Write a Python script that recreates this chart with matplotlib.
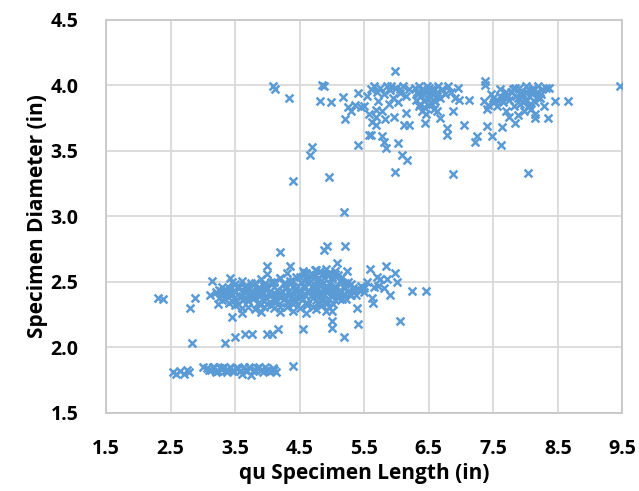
import matplotlib
matplotlib.use("Agg")
import matplotlib.pyplot as plt

# upper group (~4 in diameter specimens)
upper_len = [4.08, 4.12, 4.33, 4.84, 4.88, 4.82, 4.98, 5.17, 5.41, 5.20, 5.98, 5.25, 5.30,
             5.35, 5.45, 5.50, 5.55, 5.60, 5.65, 5.70, 5.75, 5.80, 5.85, 5.90, 5.95, 6.00,
             6.05, 6.10, 6.15, 6.20, 5.72, 5.88, 6.02, 5.58, 5.62, 5.68, 5.78, 5.82, 5.96,
             6.12, 5.77, 5.80, 5.83, 5.57, 5.41, 6.03, 6.08, 6.16, 5.97, 4.69, 4.66, 4.40,
             4.95, 6.14, 6.20, 5.69, 5.69, 5.61,
             6.28, 6.32, 6.35, 6.38, 6.40, 6.42, 6.45, 6.48, 6.50, 6.52, 6.55, 6.58, 6.60,
             6.62, 6.65, 6.68, 6.35, 6.40, 6.45, 6.55, 6.30, 6.62, 6.70, 6.75, 6.80, 6.85,
             6.90, 6.95, 6.44, 6.68, 6.79, 6.79, 6.87, 6.97, 7.05, 7.13, 7.21, 7.24, 7.40,
             7.48, 7.62, 7.64, 7.75, 7.83, 7.88, 7.40, 7.51, 7.72, 7.37, 7.37, 6.87,
             7.35, 7.42, 7.50, 7.55, 7.60, 7.65, 7.70, 7.75, 7.80, 7.82, 7.85, 7.90, 7.92,
             7.95, 8.00, 8.02, 8.05, 8.08, 8.10, 8.12, 8.15, 8.18, 8.20, 8.22, 8.25, 8.28,
             7.98, 8.15, 7.70, 7.88, 8.05, 7.60, 8.31, 8.36, 8.34, 8.45, 8.66, 8.03, 9.47,
             8.04, 8.15,
             6.33, 6.37, 6.43, 6.47, 6.53, 6.57, 6.63, 6.50, 6.42, 6.58, 5.92, 6.06,
             7.78, 7.84, 7.94, 8.00, 8.10, 8.17, 8.24, 7.96, 8.06, 7.66, 7.58, 7.46]
upper_dia = [3.99, 3.97, 3.90, 4.00, 3.99, 3.88, 3.87, 3.91, 3.94, 3.74, 4.11, 3.83, 3.80,
             3.85, 3.83, 3.84, 3.92, 3.97, 3.99, 3.95, 3.98, 3.93, 3.99, 3.96, 3.90, 3.98,
             3.94, 3.99, 3.92, 3.97, 3.88, 3.86, 3.87, 3.78, 3.72, 3.76, 3.80, 3.74, 3.76,
             3.70, 3.61, 3.57, 3.52, 3.62, 3.54, 3.56, 3.47, 3.43, 3.34, 3.53, 3.47, 3.27,
             3.30, 3.79, 3.70, 3.81, 3.70, 3.62,
             3.98, 3.95, 3.99, 3.92, 3.97, 3.88, 3.94, 3.99, 3.85, 3.91, 3.97, 3.82, 3.88,
             3.95, 3.99, 3.90, 3.84, 3.80, 3.78, 3.86, 3.89, 3.80, 3.97, 3.93, 3.99, 3.95,
             3.90, 3.98, 3.71, 3.75, 3.67, 3.62, 3.80, 3.89, 3.70, 3.89, 3.57, 3.61, 3.69,
             3.61, 3.54, 3.68, 3.76, 3.71, 3.77, 3.82, 3.87, 3.92, 4.00, 4.03, 3.32,
             3.88, 3.85, 3.90, 3.84, 3.92, 3.87, 3.95, 3.89, 3.97, 3.84, 3.92, 3.98, 3.86,
             3.94, 3.99, 3.89, 3.96, 3.82, 3.93, 3.98, 3.87, 3.95, 3.99, 3.90, 3.97, 3.84,
             3.80, 3.78, 3.80, 3.90, 3.92, 3.97, 3.98, 3.98, 3.75, 3.88, 3.88, 3.33, 3.99,
             3.83, 3.75,
             3.93, 3.86, 3.96, 3.90, 3.94, 3.89, 3.92, 3.98, 3.83, 3.96, 3.99, 3.97,
             3.95, 3.98, 3.91, 3.95, 3.96, 3.91, 3.93, 3.87, 3.85, 3.91, 3.88, 3.93]

# main group (~2.4 in diameter specimens)
main_len = [3.45, 3.60, 3.75, 3.90, 4.05, 4.20, 4.35, 4.50, 4.60, 4.70, 4.80, 4.90, 5.00, 5.10,
            3.30, 3.40, 3.55, 3.70, 3.85, 3.95, 4.10, 4.25, 4.40, 4.55, 4.65, 4.75, 4.85,
            4.95, 5.05, 5.20, 5.30, 5.45,
            3.20, 3.28, 3.38, 3.50, 3.62, 3.72, 3.82, 3.92, 4.02, 4.12, 4.22, 4.32, 4.42,
            4.52, 4.62, 4.72, 4.82, 4.92, 5.02, 5.12, 5.25, 5.35, 5.50,
            3.25, 3.35, 3.48, 3.58, 3.68, 3.78, 3.88, 3.98, 4.08, 4.18, 4.28, 4.38, 4.48,
            4.58, 4.68, 4.78, 4.88, 4.98, 5.08, 5.18, 5.30,
            3.40, 3.55, 3.70, 3.85, 4.00, 4.15, 4.30, 4.45, 4.60, 4.75, 4.90, 5.05, 5.15,
            3.60, 3.80, 3.95, 4.10, 4.30, 4.50, 4.70, 4.85, 4.95,
            4.00, 4.30, 4.55, 4.75, 4.90, 5.05, 3.90, 4.20, 4.60, 4.90,
            3.33, 3.65, 3.98, 4.28, 4.58, 4.88, 5.18, 3.43, 3.77, 4.13, 4.47, 4.83, 5.13,
            5.18, 4.20, 4.87, 4.92, 5.20, 3.99, 4.35, 5.08, 4.97, 4.74, 4.56, 5.23, 5.59,
            5.83, 5.98, 5.70, 5.85, 6.01, 5.80, 5.90, 6.24, 6.45, 6.06, 5.64, 5.41, 5.39,
            5.18, 5.00, 5.00, 4.55, 4.17, 3.99, 4.07, 3.65, 3.76, 3.50, 3.45, 3.60, 3.34,
            2.83, 2.80, 2.88, 2.31, 2.38, 3.14, 3.42, 3.11, 3.24, 5.55, 5.65, 5.75, 5.50,
            5.62, 5.72]
main_dia = [2.50, 2.51, 2.49, 2.52, 2.50, 2.53, 2.51, 2.54, 2.52, 2.55, 2.53, 2.56, 2.54, 2.55,
            2.46, 2.45, 2.47, 2.46, 2.45, 2.47, 2.46, 2.48, 2.46, 2.47, 2.49, 2.47, 2.48,
            2.49, 2.47, 2.49, 2.48, 2.47,
            2.42, 2.43, 2.41, 2.42, 2.43, 2.41, 2.42, 2.43, 2.42, 2.41, 2.43, 2.42, 2.44,
            2.42, 2.43, 2.44, 2.42, 2.44, 2.43, 2.44, 2.43, 2.44, 2.45,
            2.38, 2.37, 2.38, 2.39, 2.37, 2.38, 2.39, 2.38, 2.37, 2.39, 2.38, 2.39, 2.38,
            2.40, 2.39, 2.38, 2.40, 2.39, 2.40, 2.41, 2.40,
            2.34, 2.33, 2.35, 2.34, 2.33, 2.35, 2.34, 2.35, 2.34, 2.36, 2.35, 2.36, 2.37,
            2.30, 2.29, 2.31, 2.30, 2.31, 2.30, 2.31, 2.32, 2.31,
            2.56, 2.57, 2.58, 2.59, 2.60, 2.58, 2.27, 2.27, 2.26, 2.28,
            2.44, 2.45, 2.44, 2.45, 2.46, 2.45, 2.46, 2.40, 2.40, 2.40, 2.41, 2.41, 2.42,
            3.03, 2.73, 2.74, 2.77, 2.77, 2.62, 2.62, 2.64, 2.57, 2.59, 2.57, 2.58, 2.60,
            2.62, 2.57, 2.54, 2.52, 2.50, 2.45, 2.40, 2.43, 2.43, 2.20, 2.34, 2.18, 2.30,
            2.08, 2.15, 2.20, 2.14, 2.14, 2.10, 2.10, 2.10, 2.10, 2.08, 2.23, 2.26, 2.03,
            2.03, 2.30, 2.38, 2.38, 2.37, 2.51, 2.53, 2.40, 2.33, 2.50, 2.46, 2.52, 2.42,
            2.38, 2.47]

# extra points filling the dense core of the main group
core_len = [3.50, 3.65, 3.80, 3.95, 4.10, 4.25, 4.40, 4.52, 4.64, 4.76, 4.88, 5.00, 5.12, 5.25,
            3.25, 3.40, 3.55, 3.70, 3.85, 4.00, 4.15, 4.30, 4.45, 4.58, 4.70, 4.82, 4.94,
            5.06, 5.18, 5.32, 5.42,
            3.30, 3.45, 3.60, 3.75, 3.90, 4.05, 4.20, 4.35, 4.50, 4.64, 4.76, 4.90, 5.02,
            5.14, 5.26, 5.38,
            3.30, 3.45, 3.62, 3.78, 3.94, 4.10, 4.25, 4.40, 4.55, 4.70, 4.84, 4.96, 5.10,
            5.22,
            3.50, 3.70, 3.90, 4.05, 4.20, 4.40, 4.62, 4.80, 4.92, 5.02,
            4.20, 4.45, 4.65, 4.85, 4.95, 5.05, 5.15, 4.60, 4.82, 4.95, 4.40, 4.75, 5.00]
core_dia = [2.48, 2.47, 2.49, 2.48, 2.50, 2.49, 2.51, 2.50, 2.52, 2.51, 2.53, 2.52, 2.51, 2.50,
            2.44, 2.43, 2.45, 2.44, 2.43, 2.45, 2.44, 2.46, 2.45, 2.46, 2.45, 2.47, 2.46,
            2.45, 2.46, 2.45, 2.44,
            2.40, 2.41, 2.39, 2.40, 2.41, 2.40, 2.39, 2.41, 2.40, 2.42, 2.41, 2.42, 2.41,
            2.42, 2.41, 2.40,
            2.36, 2.35, 2.36, 2.37, 2.35, 2.36, 2.37, 2.36, 2.37, 2.38, 2.36, 2.37, 2.38,
            2.37,
            2.32, 2.31, 2.33, 2.32, 2.31, 2.33, 2.32, 2.33, 2.34, 2.33,
            2.53, 2.54, 2.55, 2.56, 2.55, 2.56, 2.54, 2.57, 2.58, 2.57, 2.28, 2.29, 2.28]

# small group (~1.83 in diameter specimens)
small_len = [2.54, 2.59, 2.65, 2.70, 2.75, 2.78, 3.00, 3.06, 3.12, 3.18, 3.24, 3.30, 3.36, 3.42,
             3.48, 3.54, 3.60, 3.66, 3.72, 3.78, 3.84, 3.90, 3.96, 4.02, 4.08, 4.14, 3.20,
             3.38, 3.57, 3.75, 3.93, 4.10, 4.40,
             3.09, 3.15, 3.21, 3.27, 3.33, 3.39, 3.45, 3.51, 3.63, 3.69, 3.81, 3.87, 3.99,
             4.05]
small_dia = [1.81, 1.80, 1.82, 1.80, 1.83, 1.81, 1.85, 1.84, 1.83, 1.85, 1.82, 1.84, 1.83, 1.85,
             1.82, 1.84, 1.80, 1.83, 1.85, 1.82, 1.84, 1.83, 1.85, 1.82, 1.84, 1.81, 1.81,
             1.81, 1.82, 1.79, 1.81, 1.83, 1.86,
             1.83, 1.85, 1.82, 1.84, 1.85, 1.83, 1.82, 1.84, 1.85, 1.82, 1.83, 1.85, 1.83,
             1.82]

x_ticks = [1.5, 2.5, 3.5, 4.5, 5.5, 6.5, 7.5, 8.5, 9.5]
y_ticks = [1.5, 2.0, 2.5, 3.0, 3.5, 4.0, 4.5]

blue = "#5B9BD5"
plt.rcParams["font.family"] = ["Open Sans", "DejaVu Sans"]

fig = plt.figure(figsize=(6.39, 4.91), dpi=100)
ax = fig.add_axes([0.166, 0.159, 0.808, 0.801])

groups = [(upper_len, upper_dia), (main_len, main_dia),
          (core_len, core_dia), (small_len, small_dia)]
for xs, ys in groups:
    ax.scatter(xs, ys, marker="x", s=32, linewidths=1.8, color=blue, zorder=3)

ax.set_xlim(1.5, 9.5)
ax.set_ylim(1.5, 4.5)
ax.set_xticks(x_ticks)
ax.set_yticks(y_ticks)
ax.set_xticklabels([f"{v:.1f}" for v in x_ticks], fontsize=14, fontweight="bold")
ax.set_yticklabels([f"{v:.1f}" for v in y_ticks], fontsize=14, fontweight="bold")
ax.tick_params(axis="x", length=0, pad=19)
ax.tick_params(axis="y", length=0, pad=20)
ax.grid(True, color="#d9d9d9", linewidth=1.3)
ax.set_axisbelow(True)
for s in ax.spines.values():
    s.set_color("#c8c8c8")
    s.set_linewidth(1.3)

ax.set_xlabel("qu Specimen Length (in)", fontsize=15, fontweight="bold", labelpad=3)
ax.set_ylabel("Specimen Diameter (in)", fontsize=15, fontweight="bold", labelpad=2)

fig.savefig("out.png", dpi=100)
